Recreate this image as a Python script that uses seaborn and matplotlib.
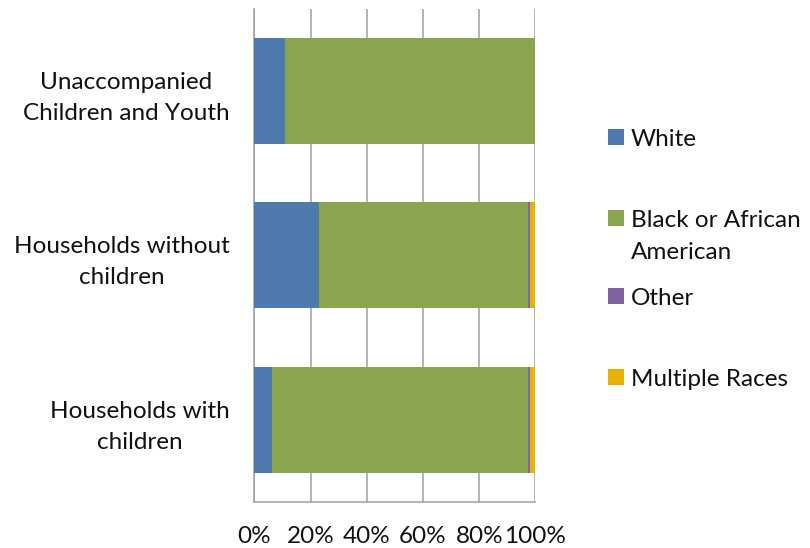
import matplotlib
matplotlib.use("Agg")
import matplotlib.pyplot as plt
from matplotlib.patches import Patch
import numpy as np
import pandas as pd
import seaborn as sns

categories = ["Unaccompanied\nChildren and Youth",
              "Households without\nchildren",
              "Households with\nchildren"]
races = ["White", "Black or African\nAmerican", "Other", "Multiple Races"]
white = [10.9, 23.0, 6.4]
black = [89.1, 74.5, 91.0]
other = [0.0, 0.7, 0.6]
multiple = [0.0, 1.8, 2.0]
colors = ["#4F7AAE", "#89A54E", "#8064A2", "#E6B400"]
xticks = [0, 20, 40, 60, 80, 100]
xtick_labels = ["0%", "20%", "40%", "60%", "80%", "100%"]

FS = 17.5
sns.set_theme(style="white")
plt.rcParams["font.family"] = ["Lato", "DejaVu Sans"]
plt.rcParams["text.color"] = "#111111"

fig = plt.figure(figsize=(8.10, 5.48), dpi=100)
ax = fig.add_axes([0.314, 0.084, 0.347, 0.900])

series = [white, black, other, multiple]
cum = np.cumsum(np.array(series), axis=0)
# Stacked bars: draw the widest cumulative total first, then overlay the shorter ones
for i in range(len(series) - 1, -1, -1):
    df = pd.DataFrame({"cat": categories, "val": cum[i]})
    sns.barplot(data=df, x="val", y="cat", color=colors[i], orient="h",
                width=0.645, saturation=1, ax=ax, zorder=3, linewidth=0)

ax.set_xlim(0, 100)
ax.set_ylim(2.5, -0.5)
ax.set_xticks(xticks)
ax.set_xticklabels(xtick_labels, fontsize=FS, color="#111111")
ax.set_yticks(range(len(categories)))
ax.set_yticklabels(categories, fontsize=FS, ha="right", multialignment="center",
                   linespacing=1.58, color="#111111")
ax.tick_params(axis="y", pad=18, length=0)
ax.tick_params(axis="x", pad=17, length=0)
ax.set_xlabel("")
ax.set_ylabel("")
ax.xaxis.grid(True, color="#A0A0A0", linewidth=1.1, zorder=0)
ax.yaxis.grid(False)
for s in ["top", "right"]:
    ax.spines[s].set_visible(False)
for s in ["left", "bottom"]:
    ax.spines[s].set_color("#A0A0A0")
    ax.spines[s].set_linewidth(1.1)

# Legend entries placed one by one (uneven vertical spacing)
legend_y = [0.746, 0.598, 0.456, 0.308]
legends = []
for lbl, col, y in zip(races, colors, legend_y):
    first_line = lbl.split("\n")[0]
    leg = fig.legend(handles=[Patch(facecolor=col, edgecolor="none")], labels=[first_line],
                     loc="center left", bbox_to_anchor=(0.7506, y), frameon=False,
                     fontsize=FS, handlelength=0.65, handleheight=0.65,
                     handletextpad=0.28, borderaxespad=0, borderpad=0)
    legends.append((leg, lbl))

# Continuation line of the wrapped legend label, aligned under its first line
fig.canvas.draw()
renderer = fig.canvas.get_renderer()
for leg, lbl in legends:
    lines = lbl.split("\n")
    if len(lines) > 1:
        bb = leg.get_texts()[0].get_window_extent(renderer)
        for k, extra in enumerate(lines[1:], start=1):
            fig.text(bb.x0 / fig.bbox.width, (bb.y0 - 32 * k) / fig.bbox.height, extra,
                     fontsize=FS, ha="left", va="bottom", color="#111111")

fig.savefig("out.png", dpi=100)
